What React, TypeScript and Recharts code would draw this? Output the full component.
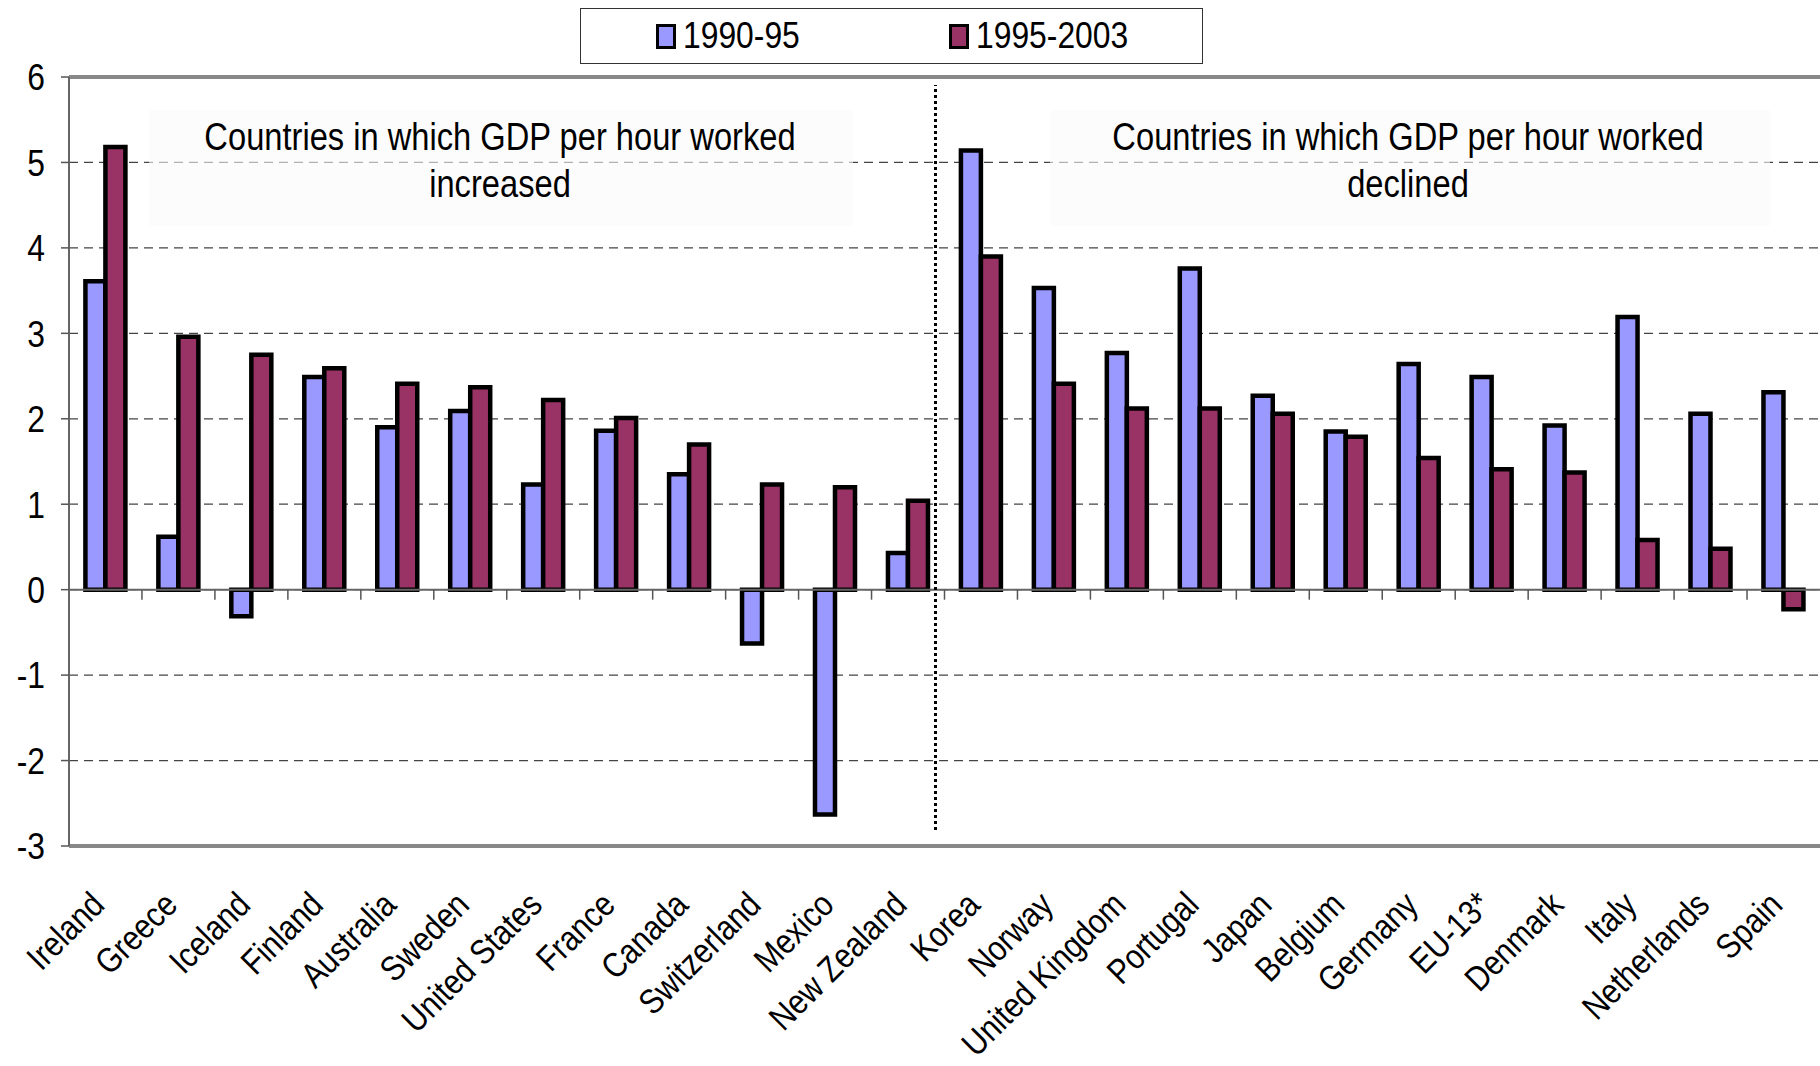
import { BarChart, Bar, XAxis, YAxis, CartesianGrid, ReferenceLine, Legend } from "recharts"

const categories = [
  "Ireland", "Greece", "Iceland", "Finland", "Australia", "Sweden", "United States", "France",
  "Canada", "Switzerland", "Mexico", "New Zealand", "Korea", "Norway", "United Kingdom", "Portugal",
  "Japan", "Belgium", "Germany", "EU-13*", "Denmark", "Italy", "Netherlands", "Spain",
]
const growth1990to95 = [
  3.61, 0.62, -0.31, 2.49, 1.9, 2.09, 1.23, 1.86,
  1.35, -0.63, -2.63, 0.43, 5.14, 3.53, 2.77, 3.76,
  2.27, 1.85, 2.64, 2.49, 1.92, 3.19, 2.06, 2.31,
]
const growth1995to2003 = [
  5.18, 2.96, 2.75, 2.59, 2.41, 2.37, 2.22, 2.01,
  1.7, 1.23, 1.2, 1.04, 3.9, 2.41, 2.12, 2.12,
  2.06, 1.79, 1.54, 1.41, 1.37, 0.58, 0.48, -0.23,
]
const yTicks = [-3, -2, -1, 0, 1, 2, 3, 4, 5, 6]
const seriesNames = ["1990-95", "1995-2003"]
const groupNotes = [
  ["Countries in which GDP per hour worked", "increased"],
  ["Countries in which GDP per hour worked", "declined"],
]

const data = categories.map((name, i) => ({
  name,
  early: growth1990to95[i],
  late: growth1995to2003[i],
}))

const FONT = "'Liberation Sans', Arial, sans-serif"
// the original uses a narrow face; squeeze the regular one horizontally
const SQUEEZE = 0.86

const XTick = ({ x, y, payload }: any) => (
  <g transform={`translate(${x - 17},${y + 43})`}>
    <text
      textAnchor="end"
      dy="0.72em"
      transform={`rotate(-45) scale(${SQUEEZE},1)`}
      fontSize={35}
      fontFamily={FONT}
      fill="#000"
    >
      {payload.value}
    </text>
  </g>
)

const YTick = ({ x, y, payload }: any) => (
  <g transform={`translate(${x},${y}) scale(${SQUEEZE},1)`}>
    <text textAnchor="end" dy="0.36em" fontSize={37} fontFamily={FONT} fill="#000">
      {payload.value}
    </text>
  </g>
)

// zero line with small category ticks hanging below it
const ZeroLine = (props: any) => {
  const { x1, y1, x2 } = props
  const n = categories.length
  const step = (x2 - x1) / n
  return (
    <g>
      <line x1={x1} y1={y1} x2={x2} y2={y1} stroke="#666" strokeWidth={2} />
      {categories.slice(1).map((_, k) => (
        <line key={k} x1={x1 + step * (k + 1)} x2={x1 + step * (k + 1)} y1={y1} y2={y1 + 10} stroke="#555" strokeWidth={1.5} />
      ))}
    </g>
  )
}

const Divider = (props: any) => {
  const { x1, y1, y2 } = props
  return <line x1={x1 - 9} x2={x1 - 9} y1={y1 - 16} y2={y2 + 8} stroke="#000" strokeWidth={3} strokeDasharray="3 3" />
}

const Notes = () => (
  <g fontFamily={FONT} fontSize={38} fill="#000">
    <rect x={149} y={110} width={704} height={116} fill="#fafafa" fillOpacity={0.6} />
    <rect x={1050} y={110} width={720} height={116} fill="#fafafa" fillOpacity={0.6} />
    {groupNotes.map((lines, i) => (
      <g key={i} transform={`translate(${i === 0 ? 500 : 1408},150) scale(${SQUEEZE},1)`}>
        <text x={0} y={0} textAnchor="middle">{lines[0]}</text>
        <text x={0} y={47} textAnchor="middle">{lines[1]}</text>
      </g>
    ))}
  </g>
)

const renderLegend = (props: any) => {
  const items = props.payload || []
  const lefts = [75, 368]
  return (
    <div style={{ position: "relative", width: 621, height: 54, border: "1.5px solid #333", background: "#fff" }}>
      {items.map((entry: any, i: number) => (
        <div key={i} style={{ position: "absolute", left: lefts[i], top: 0, height: 54, display: "flex", alignItems: "center" }}>
          <div style={{ width: 14, height: 19, background: entry.color, border: "3.5px solid #000", marginRight: 7 }} />
          <span
            style={{
              fontFamily: FONT,
              fontSize: 37,
              color: "#000",
              display: "inline-block",
              transform: `scaleX(${SQUEEZE})`,
              transformOrigin: "left center",
              whiteSpace: "nowrap",
            }}
          >
            {entry.value}
          </span>
        </div>
      ))}
    </div>
  )
}

export default function App() {
  return (
    <div style={{ position: "absolute", left: 0, top: 0, width: 1820, height: 1066, background: "#fff" }}>
      <BarChart
        width={1820}
        height={1066}
        data={data}
        margin={{ top: 77, right: 0, bottom: 0, left: 0 }}
        barCategoryGap="22.5%"
        barGap={0}
      >
        <CartesianGrid horizontal vertical={false} stroke="#444" strokeWidth={1.3} strokeDasharray="9 6" />
        <Notes />
        <XAxis
          dataKey="name"
          height={220}
          interval={0}
          tickLine={false}
          axisLine={false}
          tickSize={0}
          tickMargin={0}
          tick={<XTick />}
        />
        <YAxis
          width={69}
          domain={[-3, 6]}
          ticks={yTicks}
          interval={0}
          tickSize={8}
          tickMargin={16}
          axisLine={{ stroke: "#666", strokeWidth: 2 }}
          tickLine={{ stroke: "#555", strokeWidth: 1.5 }}
          tick={<YTick />}
        />
        <ReferenceLine y={6} stroke="#888" strokeWidth={4} />
        <ReferenceLine y={-3} stroke="#888" strokeWidth={4} />
        <Bar dataKey="early" name={seriesNames[0]} fill="#9999FF" stroke="#000" strokeWidth={4.5} isAnimationActive={false} />
        <Bar dataKey="late" name={seriesNames[1]} fill="#993366" stroke="#000" strokeWidth={4.5} isAnimationActive={false} />
        <ReferenceLine y={0} shape={<ZeroLine />} />
        <ReferenceLine x="New Zealand" position="end" shape={<Divider />} />
        <Legend
          layout="horizontal"
          verticalAlign="middle"
          align="center"
          wrapperStyle={{ position: "absolute", left: 580, top: 8, width: 623, height: 56 }}
          content={renderLegend}
        />
      </BarChart>
    </div>
  )
}
